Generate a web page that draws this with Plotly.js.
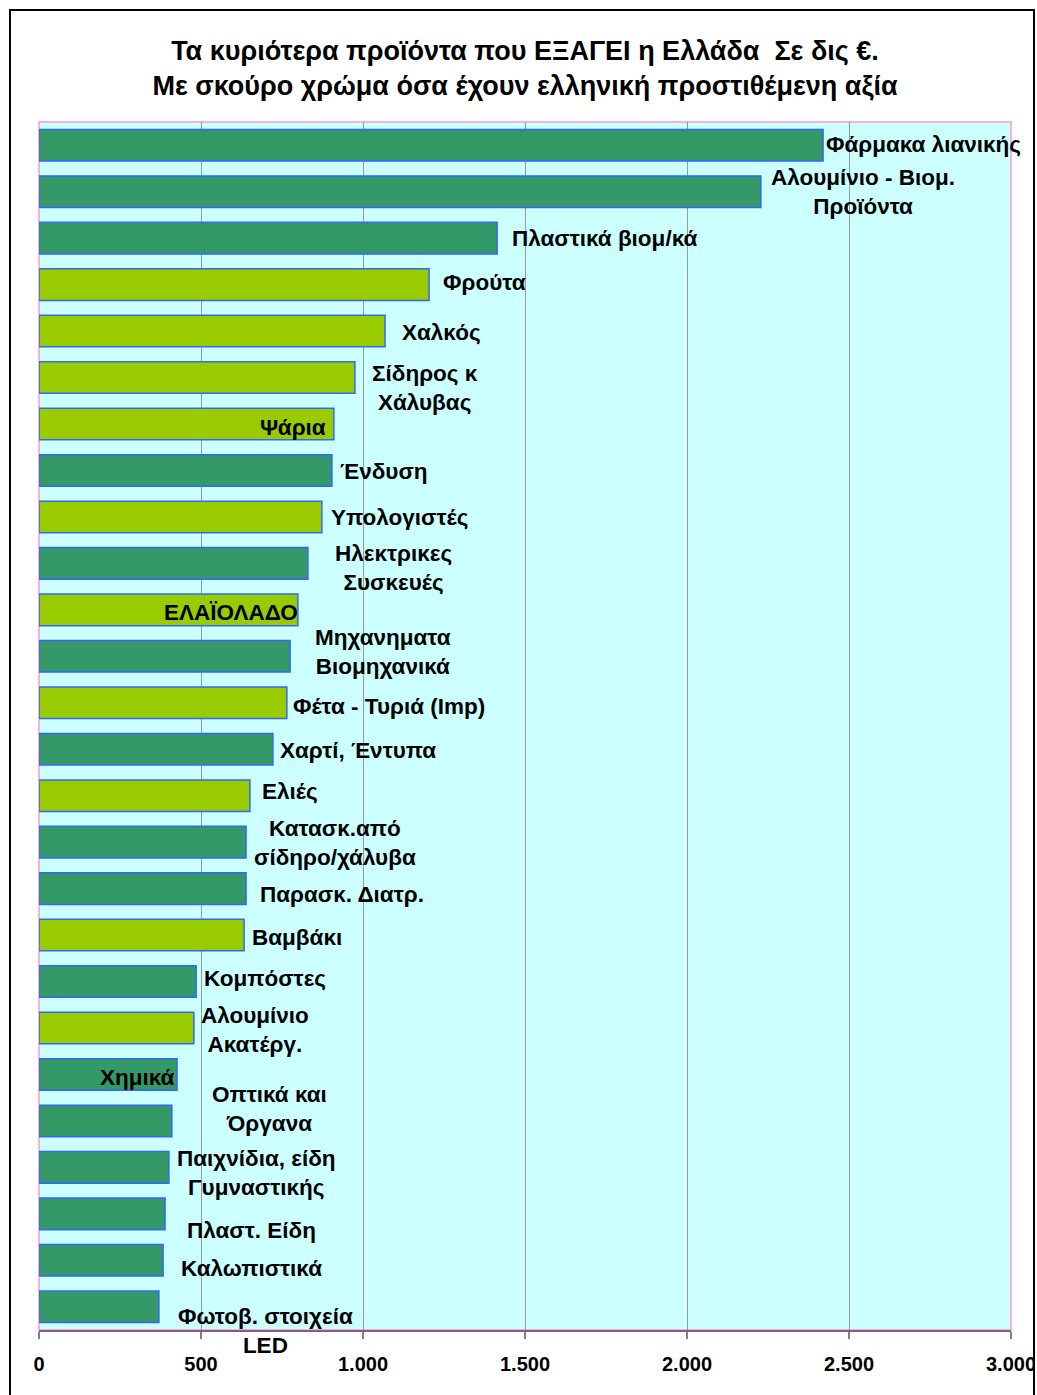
<!DOCTYPE html>
<html>
<head>
<meta charset="utf-8">
<script src="https://cdn.plot.ly/plotly-3.0.1.min.js"></script>
<style>
  html, body { margin: 0; padding: 0; background: #ffffff; width: 1037px; height: 1395px; overflow: hidden; }
  #chart { position: absolute; left: 0; top: 0; width: 1035px; height: 1395px; }
  #frame { position: absolute; left: 9px; top: 9px; width: 1026px; height: 1400px; border: 2px solid #000; pointer-events: none; box-sizing: border-box; }
</style>
</head>
<body>
<div id="chart"></div>
<div id="frame"></div>
<script>
// ---- data ----
const categories = [
  "Φάρμακα λιανικής", "Αλουμίνιο - Βιομ. Προϊόντα", "Πλαστικά βιομ/κά", "Φρούτα", "Χαλκός",
  "Σίδηρος κ Χάλυβας", "Ψάρια", "Ένδυση", "Υπολογιστές", "Ηλεκτρικες Συσκευές",
  "ΕΛΑΪΟΛΑΔΟ", "Μηχανηματα Βιομηχανικά", "Φέτα - Τυριά (Imp)", "Χαρτί, Έντυπα", "Ελιές",
  "Κατασκ.από σίδηρο/χάλυβα", "Παρασκ. Διατρ.", "Βαμβάκι", "Κομπόστες", "Αλουμίνιο Ακατέργ.",
  "Χημικά", "Οπτικά και Όργανα", "Παιχνίδια, είδη Γυμναστικής", "Πλαστ. Είδη", "Καλωπιστικά",
  "Φωτοβ. στοιχεία LED"
];
const labelTexts = [
  "Φάρμακα λιανικής", "Αλουμίνιο - Βιομ.<br>Προϊόντα", "Πλαστικά βιομ/κά", "Φρούτα", "Χαλκός",
  "Σίδηρος κ<br>Χάλυβας", "Ψάρια", "Ένδυση", "Υπολογιστές", "Ηλεκτρικες<br>Συσκευές",
  "ΕΛΑΪΟΛΑΔΟ", "Μηχανηματα<br>Βιομηχανικά", "Φέτα - Τυριά (Imp)", "Χαρτί, Έντυπα", "Ελιές",
  "Κατασκ.από<br>σίδηρο/χάλυβα", "Παρασκ. Διατρ.", "Βαμβάκι", "Κομπόστες", "Αλουμίνιο<br>Ακατέργ.",
  "Χημικά", "Οπτικά και<br>Όργανα", "Παιχνίδια, είδη<br>Γυμναστικής", "Πλαστ. Είδη", "Καλωπιστικά",
  "Φωτοβ. στοιχεία<br>LED"
];
const exportValues = [
  2420, 2228, 1414, 1204, 1068,
  975, 910, 904, 873, 830,
  799, 775, 765, 722, 651,
  639, 639, 633, 485, 478,
  426, 410, 401, 389, 383,
  370
];
// true = Greek added value (dark colour)
const greekAddedValue = [
  true, true, true, false, false,
  false, false, true, false, true,
  false, true, false, true, false,
  true, true, false, true, false,
  true, true, true, true, true,
  true
];
const tickValues = [0, 500, 1000, 1500, 2000, 2500, 3000];
const tickLabels = ["0", "500", "1.000", "1.500", "2.000", "2.500", "3.000"];

// ---- label placement (style) ----
const labelAnchor = [
  "left", "center", "left", "left", "left",
  "center", "right", "left", "left", "center",
  "right", "center", "left", "left", "left",
  "center", "left", "left", "left", "center",
  "right", "center", "center", "left", "left",
  "center"
];
const labelDx = [
  1, 102, 13, 12, 15,
  70, -6, 6, 7, 86,
  2, 93, 4, 5, 10,
  89, 12, 6, 6, 61,
  0, 98, 88, 20, 16,
  107
];
const labelDy = [
  1, 0, 0, 2, -1,
  -10, -3, -1, -1, -5,
  -3, 4, -4, -1, 4,
  -1, -6, -2, 3, -2,
  -3, 12, -6, -17, -8,
  -24
];

const DARK = "#339966";
const LIGHT = "#99CC00";
const FONT = "Liberation Sans, Arial, sans-serif";

const trace = {
  type: "bar",
  orientation: "h",
  x: exportValues,
  y: categories,
  marker: {
    color: greekAddedValue.map(g => g ? DARK : LIGHT),
    line: { color: "#3366FF", width: 1.5 }
  },
  hoverinfo: "x+y"
};

const annotations = categories.map((c, i) => ({
  x: exportValues[i],
  y: c,
  xref: "x",
  yref: "y",
  text: labelTexts[i],
  showarrow: false,
  xanchor: labelAnchor[i],
  yanchor: "middle",
  align: "center",
  xshift: labelDx[i],
  yshift: labelDy[i],
  font: { family: FONT, size: 22.5, color: "#000", weight: "bold" }
}));

const layout = {
  width: 1035,
  height: 1395,
  margin: { l: 39, r: 24, t: 122, b: 65, pad: 0 },
  paper_bgcolor: "rgba(0,0,0,0)",
  plot_bgcolor: "#CCFFFF",
  showlegend: false,
  bargap: 0.32,
  title: {
    text: "Τα κυριότερα προϊόντα που ΕΞΑΓΕΙ η Ελλάδα  Σε δις €.<br>Με σκούρο χρώμα όσα έχουν ελληνική προστιθέμενη αξία",
    font: { family: FONT, size: 27, color: "#000", weight: "bold" },
    x: 0.5,
    xref: "paper",
    y: 1 - 60 / 1395,
    yref: "container",
    yanchor: "middle"
  },
  xaxis: {
    range: [0, 3000],
    tickvals: tickValues,
    ticktext: tickLabels,
    showgrid: true,
    gridcolor: "#999999",
    gridwidth: 1,
    zeroline: false,
    showline: true,
    linecolor: "#7F5F7F",
    linewidth: 2,
    ticks: "outside",
    ticklen: 7,
    tickwidth: 1.5,
    tickcolor: "#808080",
    ticklabelstandoff: 8,
    ticklabeloverflow: "allow",
    tickfont: { family: FONT, size: 20, color: "#000", weight: "bold" },
    fixedrange: true
  },
  yaxis: {
    type: "category",
    autorange: "reversed",
    showticklabels: false,
    showgrid: false,
    zeroline: false,
    ticks: "",
    showline: false,
    fixedrange: true
  },
  shapes: [
    {
      type: "rect", xref: "paper", yref: "paper",
      x0: 0, x1: 1, y0: 0, y1: 1,
      line: { color: "#FF99CC", width: 1.5 },
      layer: "below"
    }
  ],
  annotations: annotations
};

Plotly.newPlot("chart", [trace], layout, { displayModeBar: false });
</script>
</body>
</html>
